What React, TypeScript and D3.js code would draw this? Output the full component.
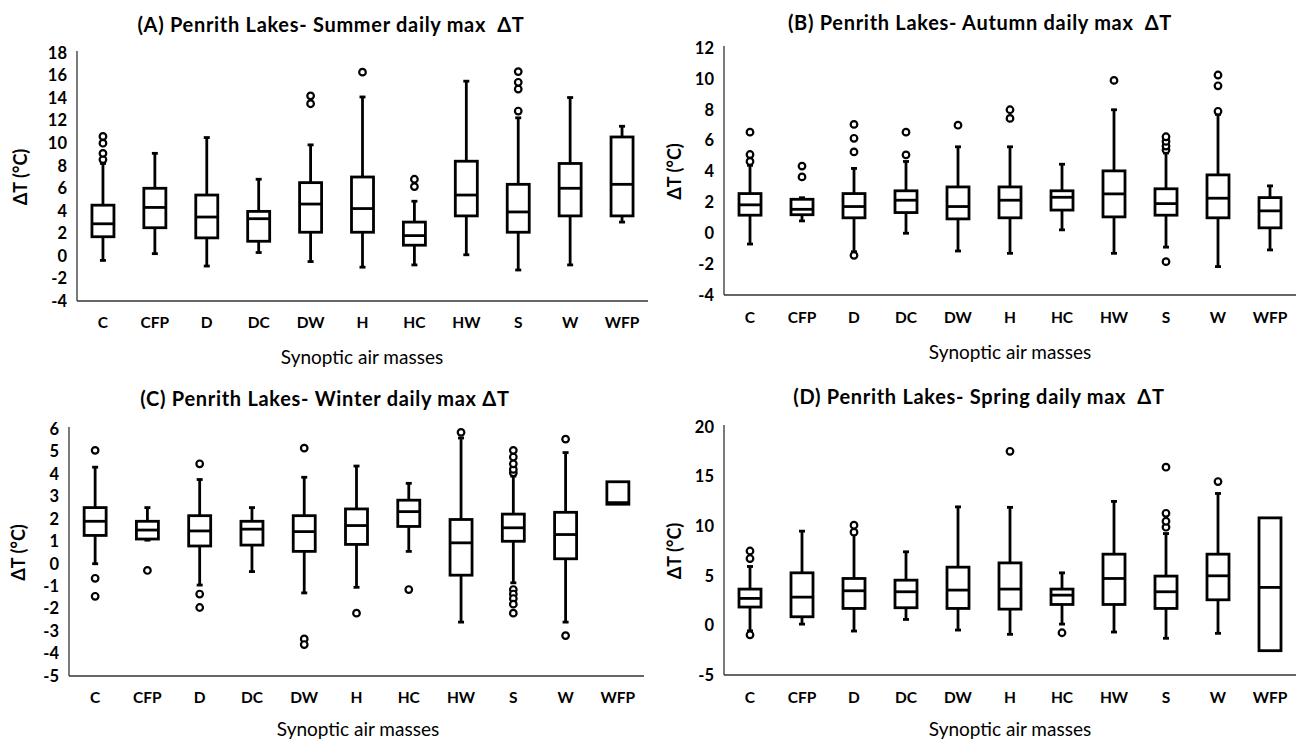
import React from 'react';
import * as d3 from 'd3';

const categories = ['C', 'CFP', 'D', 'DC', 'DW', 'H', 'HC', 'HW', 'S', 'W', 'WFP'];

// [whiskerLow, q1, median, q3, whiskerHigh]
const summerBoxes = [
  [-0.4, 1.7, 2.85, 4.5, 8.2],
  [0.2, 2.5, 4.3, 6.0, 9.1],
  [-0.9, 1.6, 3.45, 5.4, 10.5],
  [0.3, 1.3, 3.3, 3.95, 6.8],
  [-0.5, 2.1, 4.6, 6.5, 9.85],
  [-1.0, 2.1, 4.2, 7.0, 14.1],
  [-0.8, 0.95, 1.8, 3.0, 4.85],
  [0.1, 3.55, 5.4, 8.4, 15.5],
  [-1.25, 2.1, 3.9, 6.35, 12.25],
  [-0.8, 3.55, 6.0, 8.2, 14.05],
  [3.0, 3.55, 6.35, 10.55, 11.5],
];
const summerOutliers = [
  [8.55, 9.1, 10.0, 10.6], [], [], [], [13.5, 14.2], [16.3], [6.15, 6.8], [],
  [12.85, 14.8, 15.4, 16.35], [], [],
];

const autumnBoxes = [
  [-0.7, 1.17, 1.84, 2.57, 4.4],
  [0.8, 1.2, 1.55, 2.2, 2.3],
  [-1.2, 1.0, 1.73, 2.57, 4.2],
  [0.0, 1.34, 2.14, 2.75, 4.65],
  [-1.15, 0.93, 1.73, 3.0, 5.6],
  [-1.3, 1.0, 2.14, 3.0, 5.6],
  [0.22, 1.5, 2.33, 2.75, 4.47],
  [-1.3, 1.06, 2.55, 4.04, 8.0],
  [-0.9, 1.17, 1.92, 2.88, 5.2],
  [-2.16, 1.0, 2.27, 3.78, 7.7],
  [-1.08, 0.35, 1.45, 2.31, 3.07],
];
const autumnOutliers = [
  [4.65, 5.1, 6.55], [3.65, 4.35], [5.27, 6.15, 7.05, -1.43], [5.08, 6.55], [7.0],
  [7.44, 8.0], [], [9.9], [5.4, 5.65, 5.95, 6.25, -1.84], [7.9, 9.55, 10.25], [],
];

const winterBoxes = [
  [0.0, 1.26, 1.89, 2.5, 4.3],
  [1.05, 1.1, 1.5, 1.89, 2.5],
  [-0.95, 0.79, 1.46, 2.14, 3.75],
  [-0.35, 0.83, 1.54, 1.89, 2.5],
  [-1.3, 0.55, 1.43, 2.14, 3.85],
  [-1.05, 0.86, 1.7, 2.44, 4.35],
  [0.55, 1.66, 2.32, 2.83, 3.58],
  [-2.6, -0.51, 0.93, 1.97, 5.6],
  [-0.85, 1.0, 1.6, 2.21, 3.9],
  [-2.6, 0.22, 1.3, 2.29, 4.95],
  [2.65, 2.65, 2.72, 3.65, 3.65],
];
const winterOutliers = [
  [5.05, -0.65, -1.45], [-0.3], [4.45, -1.35, -1.95], [], [5.15, -3.35, -3.6],
  [-2.2], [-1.15], [5.85],
  [4.05, 4.2, 4.45, 4.75, 5.05, -1.15, -1.35, -1.55, -1.8, -2.2], [5.55, -3.2], [],
];

const springBoxes = [
  [-0.55, 1.85, 2.72, 3.66, 5.94],
  [0.13, 0.87, 2.85, 5.3, 9.5],
  [-0.57, 1.71, 3.49, 4.73, 9.2],
  [0.6, 1.78, 3.39, 4.56, 7.42],
  [-0.47, 1.71, 3.56, 5.87, 11.95],
  [-0.9, 1.64, 3.66, 6.3, 11.9],
  [0.13, 2.11, 3.05, 3.66, 5.3],
  [-0.67, 2.11, 4.73, 7.18, 12.5],
  [-1.3, 1.71, 3.39, 4.97, 9.26],
  [-0.8, 2.58, 5.0, 7.18, 13.3],
  [-2.55, -2.55, 3.83, 10.84, 10.84],
];
const springOutliers = [
  [6.74, 7.5, -0.95], [], [9.4, 10.1], [], [], [17.55], [-0.74], [],
  [9.9, 10.5, 11.3, 15.95], [14.5], [],
];

const summerTicks = [18, 16, 14, 12, 10, 8, 6, 4, 2, 0, -2, -4];
const autumnTicks = [12, 10, 8, 6, 4, 2, 0, -2, -4];
const winterTicks = [6, 5, 4, 3, 2, 1, 0, -1, -2, -3, -4, -5];
const springTicks = [20, 15, 10, 5, 0, -5];

const FONT = 'Lato, "Open Sans", sans-serif';

type PanelProps = {
  title: string;
  boxes: number[][];
  outliers: number[][];
  ticks: number[];
  x0: number; x1: number; yTop: number; yBottom: number;
  titleX: number; titleY: number; xLabelX: number; xLabelY: number; yLabelX: number;
  catY: number;
};

function Panel(p: PanelProps) {
  const domain = d3.extent(p.ticks) as [number, number];
  const y = d3.scaleLinear().domain(domain).range([p.yBottom, p.yTop]);
  const x = d3.scaleBand<string>().domain(categories).range([p.x0, p.x1]);
  const bw = 22;
  const sw = 2.8;
  const cap = 6;
  return (
    <g>
      <text x={p.titleX} y={p.titleY} dy="0.35em" textAnchor="middle" fontFamily={FONT} fontSize={20} fontWeight={700}
        letterSpacing={0.7} style={{ whiteSpace: 'pre' }} fill="#000">
        {p.title}
      </text>
      <line x1={p.x0} x2={p.x0} y1={p.yTop - 2} y2={p.yBottom} stroke="#333" strokeWidth={1.3} />
      <line x1={p.x0} x2={p.x1} y1={p.yBottom} y2={p.yBottom} stroke="#333" strokeWidth={1.3} />
      {p.ticks.map((t) => (
        <text key={t} x={p.x0 - 10} y={y(t)} dy="0.35em" textAnchor="end" fontFamily={FONT} fontSize={16.5} fontWeight={700}>
          {t}
        </text>
      ))}
      {categories.map((c) => (
        <text key={c} x={(x(c) as number) + x.bandwidth() / 2} y={p.catY} dy="0.35em" textAnchor="middle" fontFamily={FONT} fontSize={15.5} fontWeight={700}>
          {c}
        </text>
      ))}
      <text
        transform={`translate(${p.yLabelX},${(p.yTop + p.yBottom) / 2}) rotate(-90)`}
        dy="0.35em"
        textAnchor="middle"
        fontFamily={FONT}
        fontSize={18}
        fontWeight={700}
      >
        ΔT (°C)
      </text>
      <text x={p.xLabelX} y={p.xLabelY} dy="0.35em" textAnchor="middle" fontFamily={FONT} fontSize={19} fill="#000">
        Synoptic air masses
      </text>
      {categories.map((c, i) => {
        const [lo, q1, med, q3, hi] = p.boxes[i];
        const cx = (x(c) as number) + x.bandwidth() / 2;
        return (
          <g key={c} stroke="#000" strokeWidth={sw} fill="none">
            {hi > q3 && <line x1={cx} x2={cx} y1={y(q3)} y2={y(hi)} />}
            {hi > q3 && <line x1={cx - cap / 2} x2={cx + cap / 2} y1={y(hi)} y2={y(hi)} />}
            {lo < q1 && <line x1={cx} x2={cx} y1={y(q1)} y2={y(lo)} />}
            {lo < q1 && <line x1={cx - cap / 2} x2={cx + cap / 2} y1={y(lo)} y2={y(lo)} />}
            <rect x={cx - bw / 2} y={y(q3)} width={bw} height={y(q1) - y(q3)} fill="#fff" />
            <line x1={cx - bw / 2} x2={cx + bw / 2} y1={y(med)} y2={y(med)} />
            {p.outliers[i].map((o, j) => (
              <circle key={j} cx={cx} cy={y(o)} r={3.3} fill="#fff" strokeWidth={2.2} />
            ))}
          </g>
        );
      })}
    </g>
  );
}

export default function App() {
  return (
    <svg width={1296} height={741} style={{ position: 'absolute', left: 0, top: 0, background: '#fff' }}>
      <rect width={1296} height={741} fill="#fff" />
      <Panel title="(A) Penrith Lakes- Summer daily max  ΔT" boxes={summerBoxes} outliers={summerOutliers} ticks={summerTicks}
        x0={77} x1={648} yTop={53} yBottom={301} titleX={331} titleY={25} xLabelX={362} xLabelY={357} yLabelX={21} catY={323} />
      <Panel title="(B) Penrith Lakes- Autumn daily max  ΔT" boxes={autumnBoxes} outliers={autumnOutliers} ticks={autumnTicks}
        x0={724} x1={1296} yTop={48} yBottom={295} titleX={980} titleY={23} xLabelX={1010} xLabelY={352} yLabelX={675} catY={318} />
      <Panel title="(C) Penrith Lakes- Winter daily max ΔT" boxes={winterBoxes} outliers={winterOutliers} ticks={winterTicks}
        x0={69} x1={644} yTop={429} yBottom={676} titleX={325} titleY={399} xLabelX={358} xLabelY={729} yLabelX={19} catY={698} />
      <Panel title="(D) Penrith Lakes- Spring daily max  ΔT" boxes={springBoxes} outliers={springOutliers} ticks={springTicks}
        x0={724} x1={1296} yTop={427} yBottom={675} titleX={979} titleY={397} xLabelX={1010} xLabelY={729} yLabelX={675} catY={698} />
    </svg>
  );
}
